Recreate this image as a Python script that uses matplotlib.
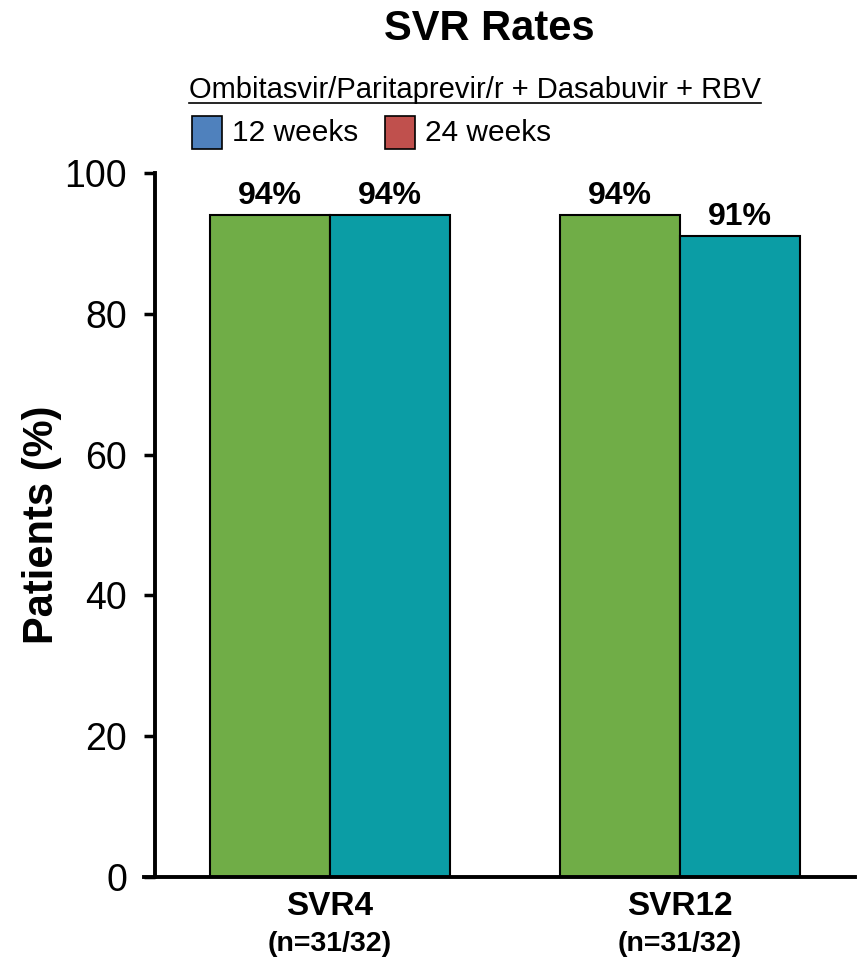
import matplotlib

matplotlib.use("Agg")
import matplotlib.pyplot as plt
import numpy as np
from matplotlib.lines import Line2D
from matplotlib.patches import Rectangle
from matplotlib.transforms import blended_transform_factory

plt.rcParams["font.family"] = ["Liberation Sans", "DejaVu Sans"]

# data
categories = ["SVR4", "SVR12"]
n_labels = ["(n=31/32)", "(n=31/32)"]
weeks12 = [94, 94]
weeks24 = [94, 91]
legend_labels = ["12 weeks", "24 weeks"]
regimen = "Ombitasvir/Paritaprevir/r + Dasabuvir + RBV"
yticks = [0, 20, 40, 60, 80, 100]

bar_colors = ["#70AD47", "#0B9DA5"]
legend_colors = ["#4F81BD", "#C0504D"]

fig = plt.figure(figsize=(8.6, 9.6), dpi=100)
ax = fig.add_axes([0.180, 0.0865, 0.814, 0.7333])

x = np.arange(len(categories))
w = 0.343
b1 = ax.bar(x - w / 2, weeks12, w, color=bar_colors[0], edgecolor="black", linewidth=1.5)
b2 = ax.bar(x + w / 2, weeks24, w, color=bar_colors[1], edgecolor="black", linewidth=1.5)

for bars in (b1, b2):
    for rect in bars:
        h = rect.get_height()
        ax.annotate(f"{h:.0f}%", (rect.get_x() + rect.get_width() / 2, h),
                    xytext=(0, 3), textcoords="offset points",
                    ha="center", va="bottom", fontsize=23, fontweight="bold")

ax.set_xlim(-0.5, 1.5)
ax.set_ylim(0, 100)
ax.set_yticks(yticks)
ax.tick_params(axis="y", labelsize=27, length=8, width=2.5, direction="out", pad=12)
ax.set_xticks(x)
ax.set_xticklabels(categories, fontsize=24, fontweight="bold")
ax.tick_params(axis="x", length=0, pad=10)

trans = blended_transform_factory(ax.transData, ax.transAxes)
for xi, lab in zip(x, n_labels):
    ax.text(xi, -0.095, lab, transform=trans, ha="center", va="center",
            fontsize=20.5, fontweight="bold")

ax.spines["top"].set_visible(False)
ax.spines["right"].set_visible(False)
ax.spines["left"].set_linewidth(2.8)
ax.spines["bottom"].set_linewidth(2.8)
ax.spines["bottom"].set_bounds(-0.5 - 11 / 350, 1.5)

ax.set_ylabel("Patients (%)", fontsize=30, fontweight="bold", labelpad=2)

# titles
fig.text(0.569, 0.970, "SVR Rates", ha="center", va="center",
         fontsize=30, fontweight="bold")
sub = fig.text(0.552, 0.906, regimen, ha="center", va="center", fontsize=21)

# underline the regimen text
fig.canvas.draw()
bb = sub.get_window_extent().transformed(fig.transFigure.inverted())
fig.add_artist(Line2D([bb.x0, bb.x1], [bb.y0 + 0.001, bb.y0 + 0.001],
                      transform=fig.transFigure, color="black", linewidth=1.2))

# legend boxes
box_x = [192 / 860, 385 / 860]
for bx, col, lab in zip(box_x, legend_colors, legend_labels):
    fig.add_artist(Rectangle((bx, 1 - 149 / 960), 30 / 860, 33 / 960,
                             transform=fig.transFigure, facecolor=col,
                             edgecolor="black", linewidth=1.2))
    fig.text(bx + 40 / 860, 1 - 133 / 960, lab, ha="left", va="center",
             fontsize=21.5)

fig.savefig("out.png", dpi=100)
